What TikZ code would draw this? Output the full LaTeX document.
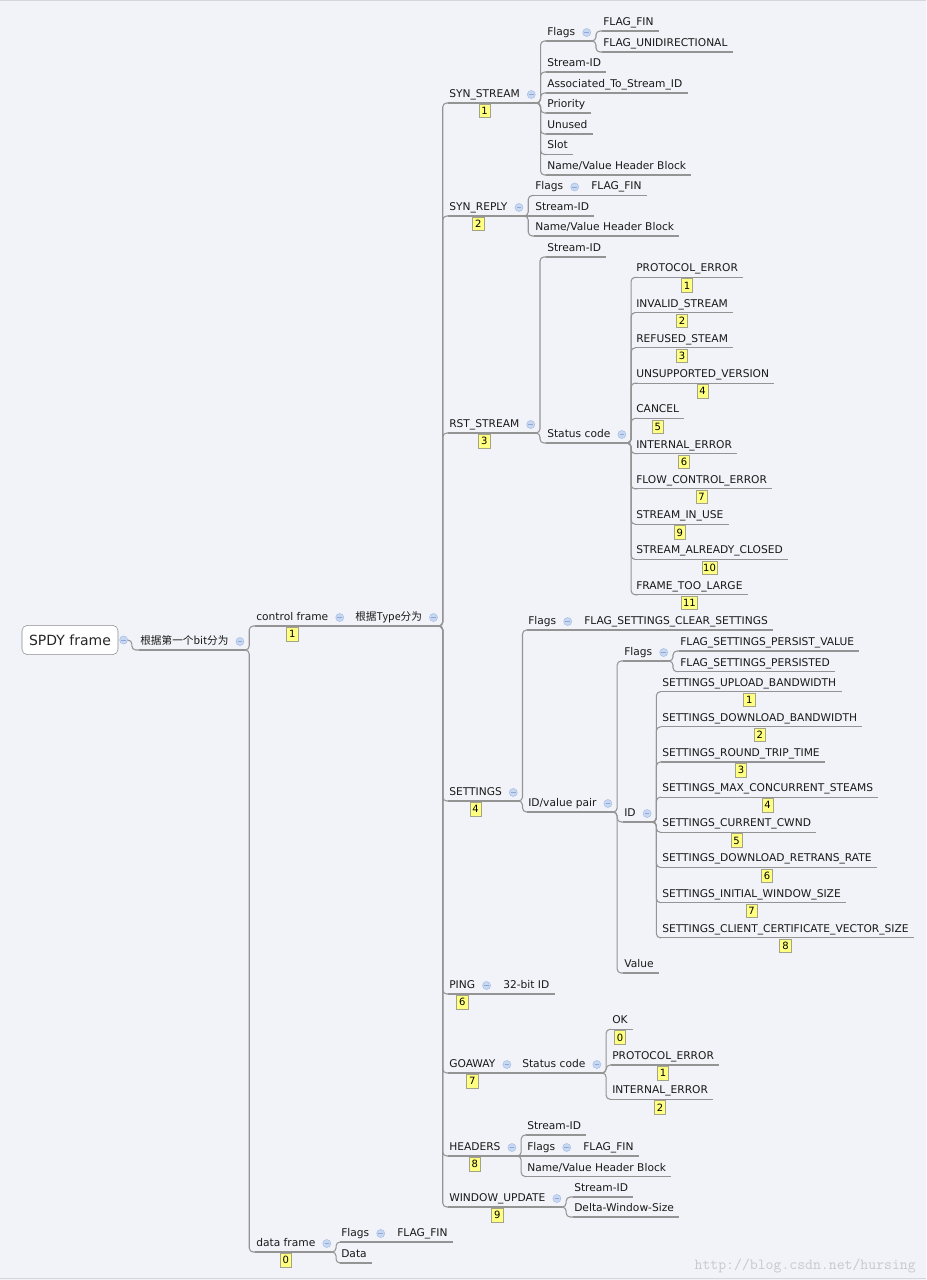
\documentclass[tikz,border=0pt]{standalone}
\usepackage{fontspec}
\setmainfont{DejaVu Sans}
\newfontfamily\cjk{Noto Sans CJK SC}
\usetikzlibrary{positioning}
\definecolor{bgcol}{HTML}{F2F3F8}
\definecolor{framecol}{HTML}{D4D6DC}
\definecolor{linecol}{HTML}{949494}
\definecolor{badgefill}{HTML}{FFFF80}
\definecolor{badgeline}{HTML}{A3A38A}
\definecolor{foldfill}{HTML}{C9D8F1}
\definecolor{folddraw}{HTML}{A7BEE6}
\definecolor{foldbar}{HTML}{8FA8DA}
\definecolor{markcol}{HTML}{C8C9CE}
\tikzset{
  topic/.style={anchor=base west, inner sep=0pt, text height=6pt, text depth=1.5pt,
    font=\fontsize{8pt}{9.6pt}\selectfont, text=black!90},
  rootbox/.style={draw=black!45, fill=white, rounded corners=4pt, minimum width=72pt,
    minimum height=22pt, inner sep=2pt, font=\fontsize{10.5pt}{12pt}\selectfont, text=black!85},
  tagbadge/.style={draw=badgeline, fill=badgefill, line width=0.5pt, inner sep=1pt,
    minimum width=8.5pt, minimum height=10pt, font=\fontsize{7.5pt}{8pt}\selectfont},
  fold/.style={circle, draw=folddraw, fill=foldfill, line width=0.4pt, minimum size=6pt, inner sep=0pt,
    path picture={\draw[foldbar, line width=0.7pt] ([xshift=-1.7pt]path picture bounding box.center)
      -- ([xshift=1.7pt]path picture bounding box.center);}},
  edgeline/.style={draw=linecol, line width=0.8pt}
}
% leaf: name, x, y, text
\newcommand{\leafnode}[4]{%
  \node[topic] (#1) at (#2,#3+4.5) {#4};
  \coordinate (#1-s) at (#2-1,#3+10);
  \draw[edgeline] (#1-s) -- (#1-s -| #1.east) -- ++(5,0) coordinate (#1-e);}
% topic with a fold button
\newcommand{\hubnode}[4]{%
  \node[topic] (#1) at (#2,#3+4.5) {#4};
  \node[fold, right=5.2pt of #1] (#1-f) {};
  \coordinate (#1-s) at (#2-1,#3+10);
  \draw[edgeline] (#1-s) -- (#1-s -| #1-f.east) -- ++(1,0) coordinate (#1-e);}
\newcommand{\tagbox}[2]{\node[tagbadge, below=5pt of #1.base] (#1-b) {#2};}
\newcommand{\branch}[2]{\draw[edgeline, rounded corners=3pt] (#1-e) -- ++(4,0) |- (#2-s);}
\newcommand{\joinpath}[2]{\draw[edgeline] (#1-e) -- (#2-s);}

\begin{document}
\begin{tikzpicture}[x=0.75pt, y=-0.75pt]
\useasboundingbox (0,0) rectangle (926,1280);
\fill[bgcol] (0,0) rectangle (926,1280);
\draw[framecol] (0,0.5) -- (926,0.5);
\draw[framecol] (0,1278.5) -- (926,1278.5);

% root
\node[rootbox] (root) at (70,640) {SPDY frame};
\node[fold, right=0.8pt of root] (root-f) {};
\coordinate (root-e) at (root-f.east);

\hubnode{bit}{140}{640}{\cjk 根据第一个bit分为}
\branch{root}{bit}

\hubnode{cf}{256}{616}{control frame}
\tagbox{cf}{1}
\hubnode{df}{256}{1242}{data frame}
\tagbox{df}{0}
\branch{bit}{cf}
\branch{bit}{df}

\hubnode{type}{355}{616}{\cjk 根据Type分为}
\joinpath{cf}{type}

% frame types
\foreach \n/\txt/\y/\b in {ss/SYN\_STREAM/93/1, sr/SYN\_REPLY/206/2, rs/RST\_STREAM/423/3,
    st/SETTINGS/791/4, pg/PING/984/6, ga/GOAWAY/1063/7, hd/HEADERS/1146/8, wu/WINDOW\_UPDATE/1197/9}
  {\hubnode{\n}{449}{\y}{\txt} \tagbox{\n}{\b} \branch{type}{\n}}

% SYN_STREAM
\hubnode{ssfl}{547}{31}{Flags}
\branch{ss}{ssfl}
\foreach \n/\txt/\y in {ssfin/FLAG\_FIN/21, ssuni/FLAG\_UNIDIRECTIONAL/42}
  {\leafnode{\n}{603}{\y}{\txt} \branch{ssfl}{\n}}
\foreach \n/\txt/\y in {ssid/Stream-ID/62, ssas/Associated\_To\_Stream\_ID/83, sspr/Priority/103,
    ssun/Unused/124, sssl/Slot/144.5, ssnv/{Name/Value Header Block}/165}
  {\leafnode{\n}{547}{\y}{\txt} \branch{ss}{\n}}

% SYN_REPLY
\hubnode{srfl}{535}{185.5}{Flags}
\branch{sr}{srfl}
\leafnode{srfin}{591}{185.5}{FLAG\_FIN}
\joinpath{srfl}{srfin}
\leafnode{srid}{535}{206}{Stream-ID}
\joinpath{sr}{srid}
\leafnode{srnv}{535}{226}{Name/Value Header Block}
\branch{sr}{srnv}

% RST_STREAM
\leafnode{rsid}{547}{247}{Stream-ID}
\branch{rs}{rsid}
\hubnode{rssc}{547}{433}{Status code}
\branch{rs}{rssc}
\foreach \n/\txt/\b [count=\k from 0] in {rs1/PROTOCOL\_ERROR/1, rs2/INVALID\_STREAM/2,
    rs3/REFUSED\_STEAM/3, rs4/UNSUPPORTED\_VERSION/4, rs5/CANCEL/5, rs6/INTERNAL\_ERROR/6,
    rs7/FLOW\_CONTROL\_ERROR/7, rs9/STREAM\_IN\_USE/9, rs10/STREAM\_ALREADY\_CLOSED/10,
    rs11/FRAME\_TOO\_LARGE/11}
  {\leafnode{\n}{636}{267.3+35.27*\k}{\txt} \tagbox{\n}{\b} \branch{rssc}{\n}}

% SETTINGS
\hubnode{stfl}{528}{620}{Flags}
\branch{st}{stfl}
\leafnode{stclr}{584}{620}{FLAG\_SETTINGS\_CLEAR\_SETTINGS}
\joinpath{stfl}{stclr}
\hubnode{stiv}{528}{802}{ID/value pair}
\branch{st}{stiv}
\hubnode{ivfl}{624}{651}{Flags}
\branch{stiv}{ivfl}
\foreach \n/\txt/\y in {ivper/FLAG\_SETTINGS\_PERSIST\_VALUE/641, ivpsd/FLAG\_SETTINGS\_PERSISTED/661.7}
  {\leafnode{\n}{680}{\y}{\txt} \branch{ivfl}{\n}}
\hubnode{ivid}{624}{812}{ID}
\branch{stiv}{ivid}
\foreach \n/\txt/\b [count=\k from 0] in {id1/SETTINGS\_UPLOAD\_BANDWIDTH/1,
    id2/SETTINGS\_DOWNLOAD\_BANDWIDTH/2, id3/SETTINGS\_ROUND\_TRIP\_TIME/3,
    id4/SETTINGS\_MAX\_CONCURRENT\_STEAMS/4, id5/SETTINGS\_CURRENT\_CWND/5,
    id6/SETTINGS\_DOWNLOAD\_RETRANS\_RATE/6, id7/SETTINGS\_INITIAL\_WINDOW\_SIZE/7,
    id8/SETTINGS\_CLIENT\_CERTIFICATE\_VECTOR\_SIZE/8}
  {\leafnode{\n}{662}{681.7+35.15*\k}{\txt} \tagbox{\n}{\b} \branch{ivid}{\n}}
\leafnode{ivva}{624}{963}{Value}
\branch{stiv}{ivva}

% PING
\leafnode{pgid}{503}{984}{32-bit ID}
\joinpath{pg}{pgid}

% GOAWAY
\hubnode{gasc}{522}{1063}{Status code}
\joinpath{ga}{gasc}
\foreach \n/\txt/\y/\b in {gaok/OK/1019.3/0, gapro/PROTOCOL\_ERROR/1055/1, gaint/INTERNAL\_ERROR/1089.3/2}
  {\leafnode{\n}{612}{\y}{\txt} \tagbox{\n}{\b} \branch{gasc}{\n}}

% HEADERS
\leafnode{hdid}{527}{1125}{Stream-ID}
\branch{hd}{hdid}
\hubnode{hdfl}{527}{1146}{Flags}
\joinpath{hd}{hdfl}
\leafnode{hdfin}{583}{1146}{FLAG\_FIN}
\joinpath{hdfl}{hdfin}
\leafnode{hdnv}{527}{1166.5}{Name/Value Header Block}
\branch{hd}{hdnv}

% WINDOW_UPDATE
\leafnode{wuid}{574}{1187}{Stream-ID}
\branch{wu}{wuid}
\leafnode{wuds}{574}{1207}{Delta-Window-Size}
\branch{wu}{wuds}

% data frame
\hubnode{dffl}{341}{1232}{Flags}
\branch{df}{dffl}
\leafnode{dffin}{397}{1232}{FLAG\_FIN}
\joinpath{dffl}{dffin}
\leafnode{dfdat}{341}{1253}{Data}
\branch{df}{dfdat}

\node[anchor=base east, inner sep=0pt, text=markcol, font=\ttfamily\fontsize{11.5pt}{12pt}\selectfont]
  (mark) at (916,1269) {http://blog.csdn.net/hursing};
\end{tikzpicture}
\end{document}
